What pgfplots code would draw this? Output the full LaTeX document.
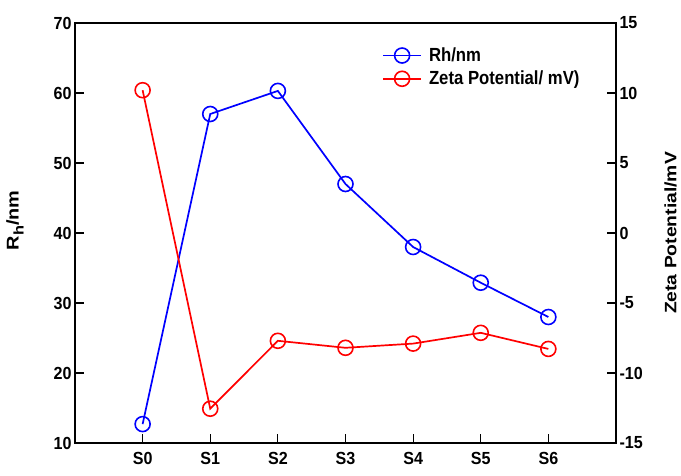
\documentclass[border=0pt]{standalone}
\usepackage{pgfplots}
\pgfplotsset{compat=1.18}
\usepackage{fontspec}
\setmainfont{Liberation Sans}
\newfontfamily\tickfont[FakeStretch=0.92]{Liberation Sans}
\newfontfamily\labfont[FakeStretch=1.17]{Liberation Sans}
\newfontfamily\legfont[FakeStretch=0.88]{Liberation Sans}
\pgfplotsset{
  myaxis/.style={
    at={(0pt,0pt)}, anchor=south west,
    scale only axis, width=541pt, height=420pt,
    xmin=-1, xmax=7,
    axis line style={line width=2.2pt, black},
    tick style={line width=1.2pt, black},
    major tick length=9pt,
    tick align=inside,
    /pgf/number format/assume math mode=true,
    ticklabel style={font=\tickfont\bfseries\fontsize{17.5}{20}\selectfont},
  },
  rhstyle/.style={blue, line width=1.7pt, mark=o, mark size=7.5pt, mark options={line width=1.6pt, solid}},
  zetastyle/.style={red, line width=1.7pt, mark=o, mark size=7.5pt, mark options={line width=1.6pt, solid}},
}
\begin{document}
\begin{tikzpicture}
\path[use as bounding box] (-75pt,-32pt) rectangle (606pt,443pt);
\begin{axis}[myaxis,
  ymin=10, ymax=70,
  ytick={10,20,...,70},
  xtick={0,1,2,3,4,5,6},
  xticklabels={S0,S1,S2,S3,S4,S5,S6},
  xtick pos=bottom, ytick pos=left,
  xticklabel style={yshift=-6pt},
  ylabel={R\raisebox{-0.3em}{\fontsize{14}{14}\selectfont h}/nm},
  ylabel style={font=\labfont\bfseries\fontsize{17}{20}\selectfont, at={(axis description cs:-0.111,0.53)}, anchor=center},
]
\addplot[rhstyle] coordinates {(0,12.7) (1,57) (2,60.3) (3,47) (4,38) (5,32.9) (6,28)};
\end{axis}
\begin{axis}[myaxis,
  ymin=-15, ymax=15,
  ytick={-15,-10,...,15},
  axis x line=none,
  axis y line*=right,
  ylabel={Zeta Potential/mV},
  ylabel style={font=\labfont\bfseries\fontsize{16.5}{20}\selectfont, at={(axis description cs:1.101,0.5)}, anchor=center},
  legend style={at={(axis description cs:0.5675,0.946)}, anchor=north west, draw=none, fill=none,
    font=\legfont\bfseries\fontsize{19}{21}\selectfont, row sep=4pt, column sep=5pt, inner sep=0pt},
  legend cell align=left,
  legend image code/.code={\draw[mark repeat=2, mark phase=2, #1, line width=1.8pt] plot coordinates {(0pt,0pt) (19pt,0pt) (38pt,0pt)};},
]
\addlegendimage{rhstyle}
\addlegendentry{Rh/nm}
\addplot[zetastyle] coordinates {(0,10.2) (1,-12.55) (2,-7.7) (3,-8.2) (4,-7.9) (5,-7.13) (6,-8.28)};
\addlegendentry{Zeta Potential/ mV)}
\end{axis}
\end{tikzpicture}
\end{document}
